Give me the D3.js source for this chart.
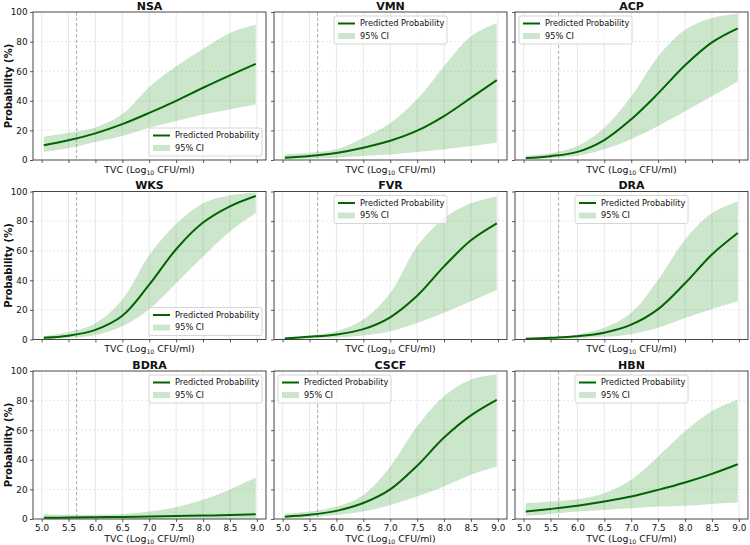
<!DOCTYPE html>
<html>
<head>
<meta charset="utf-8">
<script src="https://cdn.jsdelivr.net/npm/d3@7"></script>
<style>
  body { margin: 0; background: #fff; }
  svg { display: block; font-family: "DejaVu Sans", sans-serif; }
</style>
</head>
<body>
<div id="chart"></div>
<script>
// outcomes, one panel each (row-major)
const outcomes = ['NSA', 'VMN', 'ACP', 'WKS', 'FVR', 'DRA', 'BDRA', 'CSCF', 'HBN'];
// TVC values (log10 CFU/ml) where the curves were read
const tvc = [5.04, 5.5, 6.0, 6.5, 7.0, 7.5, 8.0, 8.5, 8.98];

// predicted probability (%)
const predicted = [
  [10, 13.3, 18, 24.2, 31.8, 40, 48.8, 57.2, 65],
  [1.6, 2.7, 4.8, 8.3, 13, 19.8, 29.7, 42, 54],
  [1.3, 2.6, 5.5, 13.5, 27.5, 45, 64, 79.5, 89],
  [1.2, 2.6, 6.5, 16, 37, 61, 79, 90, 97],
  [0.7, 1.8, 3.4, 7, 15, 29.5, 49.4, 67, 78.5],
  [0.5, 1.1, 2.2, 4.6, 10, 20.5, 38, 57.5, 72],
  [0.8, 1.0, 1.2, 1.4, 1.7, 2.0, 2.3, 2.7, 3.2],
  [1.6, 2.8, 5.5, 10.8, 20, 36, 55, 70, 80.5],
  [5, 6.8, 9, 11.8, 15.2, 19.7, 24.7, 30.5, 37]
];
// 95% CI lower bound (%)
const ciLower = [
  [5.4, 7.9, 12.1, 16.2, 21.8, 26.3, 30.8, 34.2, 37.5],
  [0.5, 1, 1.6, 2.7, 3.8, 5.4, 7.2, 9.4, 11.7],
  [0.5, 1.3, 2.9, 7.2, 14, 22.9, 33, 43, 53],
  [0.4, 1.1, 3, 9, 20.5, 38, 56, 73, 85.5],
  [0.2, 0.7, 1.3, 2.7, 5.6, 11.2, 18, 25.8, 33.5],
  [0.2, 0.4, 0.9, 1.8, 3.6, 7.9, 14.5, 20.5, 25.8],
  [0.2, 0.2, 0.2, 0.2, 0.2, 0.2, 0.2, 0.25, 0.3],
  [0.5, 1.1, 2.7, 5, 9.5, 15.2, 22, 29.9, 35.5],
  [2, 3.4, 5, 6.1, 7.2, 8.4, 9, 10.2, 11.1]
];
// 95% CI upper bound (%)
const ciUpper = [
  [15.7, 18.4, 22, 31, 49.4, 63.4, 75, 85.8, 91.5],
  [3.8, 4.9, 7.2, 15, 25, 41, 63.4, 83.6, 92.6],
  [2.7, 4.5, 9.4, 21.8, 43, 70, 88, 96, 98.8],
  [2.2, 5, 11, 27, 57, 78, 92, 97.5, 99.4],
  [1.6, 2.7, 5.6, 13.5, 31.5, 63, 82, 92, 96.6],
  [0.9, 1.8, 3.4, 7.9, 18, 40.4, 67.4, 85.4, 93.3],
  [3.2, 2.8, 2.8, 3.3, 5, 8, 13, 20, 28],
  [3.4, 5, 8.4, 16.3, 35.5, 62.7, 83, 94.3, 97.7],
  [10.6, 11.8, 13.3, 17.4, 26.5, 42.3, 59.3, 72.9, 80.8]
];
const threshold = 5.65;
const xTicks = [5.0, 5.5, 6.0, 6.5, 7.0, 7.5, 8.0, 8.5, 9.0];
const yTicks = [0, 20, 40, 60, 80, 100];
const legendLoc = ['lower right', 'upper center', 'upper left', 'lower right', 'upper center',
                   'upper center', 'upper right', 'upper left', 'upper center'];

const W = 750, H = 545;
const colLeft = [33, 274, 515], rowTop = [12, 191.5, 371];
const pw = 233, ph = 148;
const lineColor = '#006400', bandColor = '#008000';
const curve = d3.curveCatmullRom.alpha(0.5);

const svg = d3.select('#chart').append('svg').attr('width', W).attr('height', H);

const x = d3.scaleLinear().domain([4.84, 9.17]).range([0, pw]);
const y = d3.scaleLinear().domain([0, 100]).range([ph, 0]);

outcomes.forEach(function(name, i) {
    const row = Math.floor(i / 3), col = i % 3;
    const g = svg.append('g').attr('transform', 'translate(' + colLeft[col] + ',' + rowTop[row] + ')');
    const pts = tvc.map((t, k) => ({ t: t, p: predicted[i][k], lo: ciLower[i][k], hi: ciUpper[i][k] }));

    // grid
    g.append('g').selectAll('line').data(yTicks.slice(1, -1)).join('line')
        .attr('x1', 0).attr('x2', pw).attr('y1', d => y(d)).attr('y2', d => y(d))
        .attr('stroke', '#d6d6d6').attr('stroke-width', 0.6).attr('stroke-dasharray', '2,2');
    g.append('g').selectAll('line').data(xTicks).join('line')
        .attr('y1', 0).attr('y2', ph).attr('x1', d => x(d)).attr('x2', d => x(d))
        .attr('stroke', '#e0e0e0').attr('stroke-width', 0.7);

    // CI band
    g.append('path').datum(pts)
        .attr('d', d3.area().x(d => x(d.t)).y0(d => y(d.lo)).y1(d => y(d.hi)).curve(curve))
        .attr('fill', bandColor).attr('fill-opacity', 0.2);

    // threshold
    g.append('line').attr('x1', x(threshold)).attr('x2', x(threshold)).attr('y1', 0).attr('y2', ph)
        .attr('stroke', '#999').attr('stroke-width', 0.8).attr('stroke-dasharray', '3.5,2');

    // predicted curve
    g.append('path').datum(pts)
        .attr('d', d3.line().x(d => x(d.t)).y(d => y(d.p)).curve(curve))
        .attr('fill', 'none').attr('stroke', lineColor).attr('stroke-width', 2);

    // axes
    const xAxis = d3.axisBottom(x).tickValues(xTicks).tickSize(3).tickPadding(3)
        .tickFormat(row == 2 ? d3.format('.1f') : '');
    const yAxis = d3.axisLeft(y).tickValues(yTicks).tickSize(3).tickPadding(2.5)
        .tickFormat(col == 0 ? d3.format('d') : '');
    const xa = g.append('g').attr('transform', 'translate(0,' + ph + ')').call(xAxis);
    const ya = g.append('g').call(yAxis);
    [xa, ya].forEach(a => {
        a.select('.domain').remove();
        a.selectAll('line').attr('stroke', '#333').attr('stroke-width', 0.8);
        a.selectAll('text').attr('font-size', 8.8).attr('fill', '#111').attr('font-family', '"DejaVu Sans", sans-serif');
    });
    g.append('rect').attr('width', pw).attr('height', ph)
        .attr('fill', 'none').attr('stroke', '#333').attr('stroke-width', 0.9);

    // title
    g.append('text').attr('x', pw / 2).attr('y', -2.5).attr('text-anchor', 'middle')
        .attr('font-size', 11).attr('font-weight', 'bold').attr('fill', '#111').text(name);

    // x label
    const xl = g.append('text').attr('x', pw / 2).attr('y', ph + (row == 2 ? 23 : 12.5))
        .attr('text-anchor', 'middle').attr('font-size', 9.4).attr('fill', '#111');
    xl.append('tspan').text('TVC (Log');
    xl.append('tspan').attr('font-size', 6.2).attr('dy', 2).text('10');
    xl.append('tspan').attr('dy', -2).text(' CFU/ml)');

    // y label
    if (col == 0) {
        g.append('text').attr('transform', 'translate(-21,' + (ph / 2) + ') rotate(-90)')
            .attr('text-anchor', 'middle').attr('font-size', 10).attr('font-weight', 'bold')
            .attr('fill', '#111').text('Probability (%)');
    }

    // legend
    const lw = 113, lh = 28, pad = 4;
    const loc = legendLoc[i];
    let lx = loc.endsWith('left') ? pad : loc.endsWith('right') ? pw - lw - pad : (pw - lw) / 2;
    let ly = loc.startsWith('upper') ? pad : ph - lh - pad;
    const lg = g.append('g').attr('transform', 'translate(' + lx + ',' + ly + ')');
    lg.append('rect').attr('width', lw).attr('height', lh).attr('rx', 2)
        .attr('fill', '#fff').attr('fill-opacity', 0.8).attr('stroke', '#cccccc').attr('stroke-width', 0.8);
    lg.append('line').attr('x1', 4).attr('x2', 21).attr('y1', 7.5).attr('y2', 7.5)
        .attr('stroke', lineColor).attr('stroke-width', 2);
    lg.append('rect').attr('x', 4).attr('y', 17).attr('width', 17).attr('height', 6)
        .attr('fill', bandColor).attr('fill-opacity', 0.2);
    lg.append('text').attr('x', 26).attr('y', 10.3).attr('font-size', 8.2).attr('fill', '#111').text('Predicted Probability');
    lg.append('text').attr('x', 26).attr('y', 22.8).attr('font-size', 8.2).attr('fill', '#111').text('95% CI');
});
</script>
</body>
</html>
